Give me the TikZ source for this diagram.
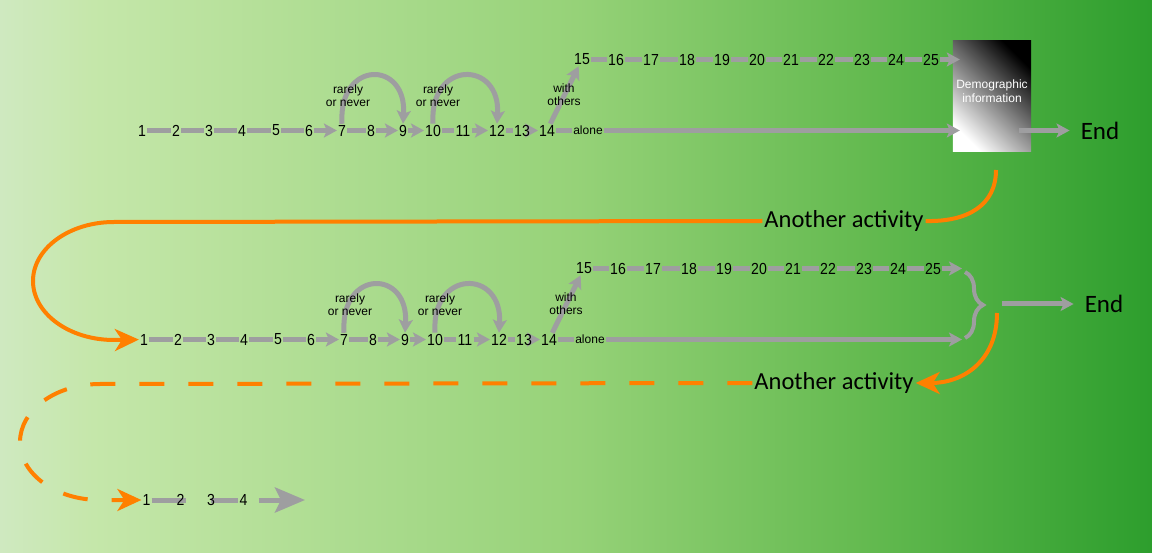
\documentclass[tikz,border=0pt]{standalone}
\usepackage{fontspec}
\setmainfont{Liberation Sans}
\newfontfamily\bigfont{Carlito}
\newfontfamily\numfont{Liberation Sans}[FakeStretch=0.88]
\usetikzlibrary{arrows.meta,decorations.pathreplacing}
\definecolor{stepgray}{RGB}{158,158,160}
\definecolor{loopor}{RGB}{255,128,0}
\definecolor{bgA}{RGB}{207,233,192}
\definecolor{bgB}{RGB}{197,231,170}
\definecolor{bgC}{RGB}{150,210,120}
\definecolor{bgD}{RGB}{100,186,80}
\definecolor{bgE}{RGB}{45,158,45}
\pgfdeclarehorizontalshading{meadow}{100bp}{color(0bp)=(bgA); color(25bp)=(bgA); color(29bp)=(bgB); color(50bp)=(bgC); color(62.5bp)=(bgD); color(75bp)=(bgE); color(100bp)=(bgE)}
\pgfdeclarelayer{back}
\pgfdeclarelayer{links}
\pgfsetlayers{back,links,main}
% one row of questions, #1 = name prefix, (#2,#3) = shift
\def\surveyrow#1(#2,#3){%
	\begin{scope}[shift={(#2,#3)}]
		\node[num] (#1-1) at (142,130.5) {1};
		\node[num] (#1-2) at (176,130.5) {2};
		\node[num] (#1-3) at (209,130.5) {3};
		\node[num] (#1-4) at (242,130.5) {4};
		\node[num] (#1-5) at (276,130.5) {5};
		\node[num] (#1-6) at (309,130.5) {6};
		\node[num] (#1-7) at (342,130.5) {7};
		\node[num] (#1-8) at (371,130.5) {8};
		\node[num] (#1-9) at (403,130.5) {9};
		\node[num] (#1-10) at (433,130.5) {10};
		\node[num] (#1-11) at (463,130.5) {11};
		\node[num] (#1-12) at (497,130.5) {12};
		\node[num] (#1-13) at (522,130.5) {13};
		\node[num] (#1-14) at (547,130.5) {14};
		\node[note] (#1-alone) at (588,130.5) {alone};
		\node[num] (#1-15) at (582,59.5) {15};
		\node[num] (#1-16) at (616,59.5) {16};
		\node[num] (#1-17) at (651,59.5) {17};
		\node[num] (#1-18) at (687,59.5) {18};
		\node[num] (#1-19) at (722,59.5) {19};
		\node[num] (#1-20) at (757,59.5) {20};
		\node[num] (#1-21) at (791,59.5) {21};
		\node[num] (#1-22) at (826,59.5) {22};
		\node[num] (#1-23) at (862,59.5) {23};
		\node[num] (#1-24) at (896,59.5) {24};
		\node[num] (#1-25) at (931,59.5) {25};
		\node[note] (#1-skipA) at (348,96) {rarely\\or never};
		\node[note] (#1-skipB) at (438,96) {rarely\\or never};
		\node[note] (#1-with) at (564,95) {with\\others};
	\end{scope}
	\begin{pgfonlayer}{links}
		\draw[link] (#1-1) -- (#1-2);
		\draw[link] (#1-2) -- (#1-3);
		\draw[link] (#1-3) -- (#1-4);
		\draw[link] (#1-4) -- (#1-5);
		\draw[link] (#1-5) -- (#1-6);
		\draw[linkarrow] (#1-6) -- (#1-7);
		\draw[link] (#1-7) -- (#1-8);
		\draw[linkarrow] (#1-8) -- (#1-9);
		\draw[linkarrow] (#1-9) -- (#1-10);
		\draw[link] (#1-10) -- (#1-11);
		\draw[linkarrow] (#1-11) -- (#1-12);
		\draw[link] (#1-12) -- (#1-13);
		\draw[linkarrow] (#1-13) -- (#1-14);
		\draw[link] (#1-14) -- (#1-alone);
		\draw[linkarrow] (#1-14) -- (#1-15);
		\draw[linkarrow] (#1-7.north) .. controls +(-4,-64) and +(4,-64) .. (#1-9.north);
		\draw[linkarrow] (#1-10.north) .. controls +(-4,-64) and +(4,-64) .. (#1-12.north);
		\draw[link] (#1-15) -- (#1-16);
		\draw[link] (#1-16) -- (#1-17);
		\draw[link] (#1-17) -- (#1-18);
		\draw[link] (#1-18) -- (#1-19);
		\draw[link] (#1-19) -- (#1-20);
		\draw[link] (#1-20) -- (#1-21);
		\draw[link] (#1-21) -- (#1-22);
		\draw[link] (#1-22) -- (#1-23);
		\draw[link] (#1-23) -- (#1-24);
		\draw[link] (#1-24) -- (#1-25);
	\end{pgfonlayer}
}

\begin{document}
\begin{tikzpicture}[x=1pt, y=-1pt,
	num/.style={font=\numfont\fontsize{16}{16}\selectfont, inner sep=1pt},
	note/.style={font=\fontsize{12}{13}\selectfont, align=center, inner sep=1pt},
	actlabel/.style={font=\bigfont\fontsize{24.5}{25}\selectfont, inner sep=2pt},
	endlabel/.style={font=\bigfont\fontsize{25}{25}\selectfont, inner xsep=11pt},
	link/.style={line width=5pt, draw=stepgray},
	linkarrow/.style={link, -{Stealth[length=13pt,width=14pt,inset=3pt]}},
	loopline/.style={line width=4pt, draw=loopor},
	looparrow/.style={loopline, -{Stealth[length=24pt,width=22pt,inset=7pt]}},
	bracelink/.style={line width=4pt, draw=stepgray, decorate, decoration={brace, amplitude=18pt}},
	demobox/.style={minimum width=78pt, minimum height=111pt, top color=black, bottom color=white, shading angle=-45, text=white, font=\fontsize{12}{14}\selectfont, align=center, text depth=10pt}]
	%%%%% START %%%%%
	\useasboundingbox (0,0) rectangle (1152,553);
	\begin{pgfonlayer}{back}
		\shade[shading=meadow] (0,0) rectangle (1152,553);
		\node[demobox] (demo) at (992,96.5) {Demographic\\information};
	\end{pgfonlayer}
	
	% first activity
	\surveyrow a(0,0)
	\draw[linkarrow, shorten >=-7pt] (a-25) -- (a-25 -| demo.west);
	\draw[linkarrow, shorten >=-7pt] (a-alone) -- (a-alone -| demo.west);
	\node[endlabel] (end1) at (1100,130.5) {End};
	\draw[linkarrow, shorten <=-12pt] (demo.east |- end1) -- (end1);
	
	% second activity
	\surveyrow b(2,209)
	\coordinate (braceTop) at (965,272);
	\coordinate (braceBot) at (965,338);
	\draw[linkarrow, shorten >=3pt] (b-25) -- (b-25 -| braceTop);
	\draw[linkarrow, shorten >=3pt] (b-alone) -- (b-alone -| braceBot);
	\draw[bracelink] (braceTop) -- (braceBot);
	\coordinate (braceTip) at (1002,304);
	\node[endlabel] (end2) at (1104,304) {End};
	\draw[linkarrow] (braceTip) -- (end2);
	
	% third activity
	\node[num] (c-1) at (146.5,500) {1};
	\node[num] (c-2) at (180.5,500) {2};
	\node[num] (c-3) at (211,500) {3};
	\node[num] (c-4) at (243.5,500) {4};
	\coordinate (c-next) at (305,500);
	\begin{pgfonlayer}{links}
		\draw[link] (c-1) -- (c-2.east);
		\draw[link] (c-3.center) -- (c-4);
	\end{pgfonlayer}
	\draw[link, shorten <=10pt, -{Stealth[length=30pt,width=25pt,inset=6pt]}] (c-4) -- (c-next);
	
	% loops to the next activity
	\node[actlabel] (act1) at (844,221) {Another activity};
	\coordinate (loopA) at (996,170);
	\draw[loopline] (loopA) .. controls (996,205) and (968,222) .. (act1.east);
	\draw[looparrow] (act1.west) -- (114,222) .. controls (69.3,222) and (33,248.4) .. (33,281) .. controls (33,313.6) and (69.3,340) .. (114,340) -- (b-1);
	
	\node[actlabel] (act2) at (834,383) {Another activity};
	\coordinate (loopB) at (997,313);
	\draw[looparrow] (loopB) .. controls (997,362) and (962,383) .. (act2.east);
	\draw[looparrow, dash pattern=on 25pt off 24pt] (act2.west) -- (100,384) .. controls (55.8,384) and (20,410) .. (20,442) .. controls (20,474) and (55.8,500) .. (100,500) -- (c-1);
	%%%%% END %%%%%
\end{tikzpicture}
\end{document}
